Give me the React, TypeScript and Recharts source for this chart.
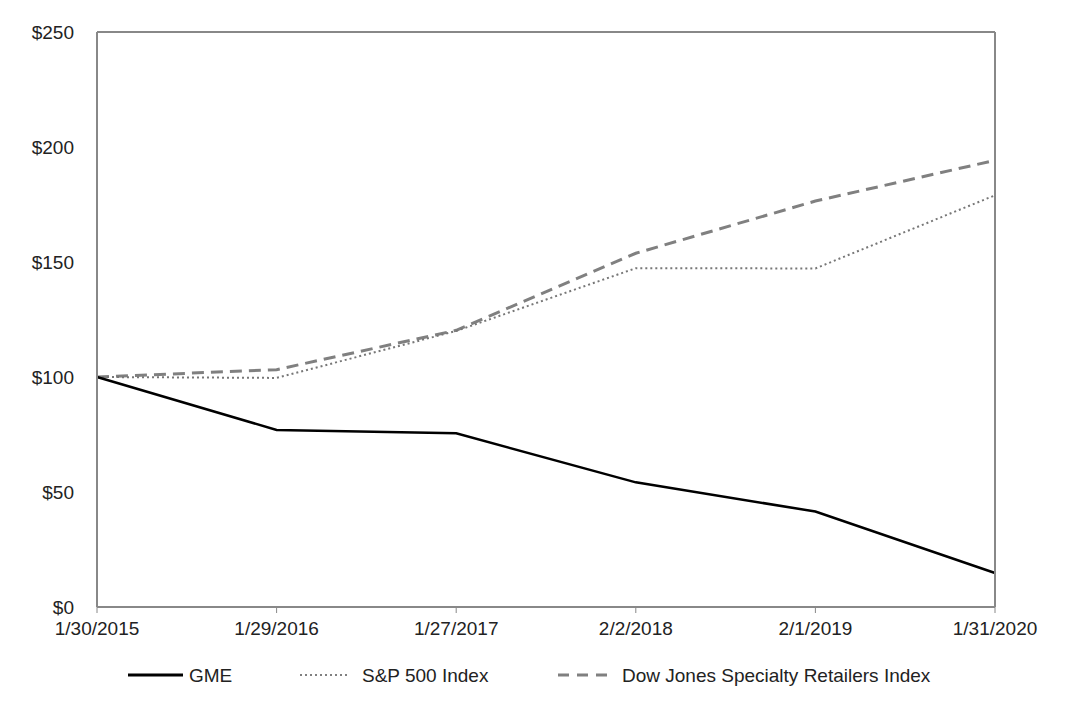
import React from 'react';
import { LineChart, Line, XAxis, YAxis, CartesianGrid, ReferenceLine } from 'recharts';

const dates = ['1/30/2015', '1/29/2016', '1/27/2017', '2/2/2018', '2/1/2019', '1/31/2020'];
const gme = [100, 77, 75.5, 54.2, 41.5, 14.8];
const sp500 = [100, 99.6, 120, 147.3, 147.2, 179];
const djsr = [100, 103.2, 120.3, 153.8, 176.5, 194.2];
const yTicks = [0, 50, 100, 150, 200, 250];

const data = dates.map((d, i) => ({ date: d, gme: gme[i], sp: sp500[i], dj: djsr[i] }));

const FONT = '"Liberation Sans", Arial, sans-serif';

const legendItems = [
  { name: 'GME', color: '#000000', width: 3, dash: undefined as string | undefined, x1: 128, x2: 183, tx: 189 },
  { name: 'S&P 500 Index', color: '#808080', width: 2, dash: '2 3', x1: 300, x2: 350, tx: 362 },
  { name: 'Dow Jones Specialty Retailers Index', color: '#808080', width: 3, dash: '11 8', x1: 558, x2: 611, tx: 622 },
];

const CustomLegend = () => (
  <svg width={1070} height={40} style={{ position: 'absolute', left: 0, top: 655, display: 'block' }}>
    {legendItems.map((it) => (
      <g key={it.name}>
        <line x1={it.x1} x2={it.x2} y1={20} y2={20} stroke={it.color} strokeWidth={it.width} strokeDasharray={it.dash} />
        <text x={it.tx} y={27} fontFamily={FONT} fontSize={19} fill="#222">{it.name}</text>
      </g>
    ))}
  </svg>
);

export default function App() {
  return (
    <div style={{ position: 'absolute', left: 0, top: 0, width: 1070, height: 712, background: '#fff' }}>
      <LineChart width={1070} height={712} data={data} margin={{ top: 32, right: 0, bottom: 75, left: 0 }}>
        <CartesianGrid horizontal vertical={false} stroke="#b0b0b0" />
        <XAxis
          dataKey="date"
          height={30}
          axisLine={{ stroke: '#888', strokeWidth: 2 }}
          tickLine={{ stroke: '#888', strokeWidth: 1 }}
          tickSize={6}
          tickMargin={9}
          interval={0}
          tick={{ fontFamily: FONT, fontSize: 19, fill: '#222' }}
        />
        <YAxis
          yAxisId="l"
          domain={[0, 250]}
          ticks={yTicks}
          width={97}
          axisLine={{ stroke: '#888', strokeWidth: 2 }}
          tickLine={false}
          tickSize={0}
          tickMargin={23}
          tickFormatter={(v) => `$${v}`}
          tick={{ fontFamily: FONT, fontSize: 19, fill: '#222' }}
        />
        <YAxis
          yAxisId="r"
          orientation="right"
          domain={[0, 250]}
          width={75}
          tick={false}
          tickLine={false}
          axisLine={{ stroke: '#888', strokeWidth: 2 }}
        />
        <ReferenceLine yAxisId="l" y={250} stroke="#888" strokeWidth={2} />
        <Line yAxisId="l" type="linear" dataKey="dj" stroke="#808080" strokeWidth={3} strokeDasharray="12 7" dot={false} isAnimationActive={false} />
        <Line yAxisId="l" type="linear" dataKey="sp" stroke="#777777" strokeWidth={2} strokeDasharray="2 3" dot={false} isAnimationActive={false} />
        <Line yAxisId="l" type="linear" dataKey="gme" stroke="#000000" strokeWidth={2.5} dot={false} isAnimationActive={false} />
      </LineChart>
      <CustomLegend />
    </div>
  );
}
